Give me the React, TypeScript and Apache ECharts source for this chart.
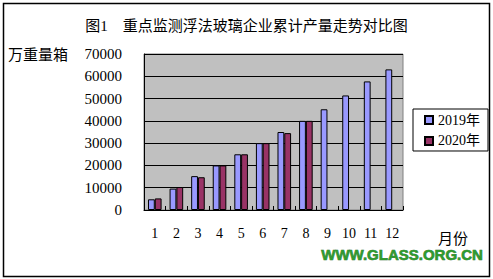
import React, { useEffect, useRef } from "react";
import * as echarts from "echarts";

const months = ["1", "2", "3", "4", "5", "6", "7", "8", "9", "10", "11", "12"];
const values2019 = [4800, 9600, 15200, 20000, 25000, 30000, 35000, 40000, 45200, 51400, 57700, 63100];
const values2020 = [5200, 10300, 14700, 20000, 25000, 30000, 34500, 40000];
const yTicks = { min: 0, max: 70000, interval: 10000 };
const seriesNames = ["2019年", "2020年"];
const titleText = "图1　重点监测浮法玻璃企业累计产量走势对比图";
const yName = "万重量箱";
const xName = "月份";
const watermark = "WWW.GLASS.ORG.CN";

const FONT = "'Liberation Serif', 'Noto Sans CJK SC', serif";

export default function App() {
  const ref = useRef<HTMLDivElement>(null);
  useEffect(() => {
    if (!ref.current) return;
    const chart = echarts.init(ref.current, null, { renderer: "svg" });
    chart.setOption({
      animation: false,
      backgroundColor: "#ffffff",
      title: {
        text: titleText,
        left: "center",
        top: 13,
        textStyle: { fontFamily: FONT, fontSize: 15, fontWeight: "normal", color: "#000" },
      },
      grid: {
        left: 144,
        top: 54,
        width: 259,
        height: 156,
        show: true,
        backgroundColor: "#C0C0C0",
        borderColor: "#808080",
        borderWidth: 1,
      },
      legend: {
        orient: "vertical",
        left: 413,
        top: 109,
        padding: [4, 8, 3, 11],
        itemGap: 7,
        itemWidth: 8,
        itemHeight: 8,
        icon: "rect",
        borderColor: "#000",
        borderWidth: 1,
        backgroundColor: "#fff",
        textStyle: { fontFamily: FONT, fontSize: 14, color: "#000" },
        data: seriesNames,
      },
      xAxis: {
        type: "category",
        data: months,
        axisLine: { lineStyle: { color: "#000", width: 1 } },
        axisTick: { show: true, inside: true, length: 4, interval: 0, lineStyle: { color: "#000" } },
        axisLabel: { fontFamily: FONT, fontSize: 14, color: "#000", margin: 16, interval: 0 },
      },
      yAxis: {
        type: "value",
        min: yTicks.min,
        max: yTicks.max,
        interval: yTicks.interval,
        axisLine: { show: true, lineStyle: { color: "#000", width: 1 } },
        axisTick: { show: false },
        axisLabel: {
          fontFamily: FONT,
          fontSize: 15,
          color: "#000",
          margin: 22,
          formatter: (v: number) => String(v),
        },
        splitLine: { lineStyle: { color: "#000", width: 1 } },
      },
      series: [
        {
          name: seriesNames[0],
          type: "bar",
          data: values2019,
          barGap: "0%",
          barCategoryGap: "37%",
          itemStyle: { color: "#9999FF", borderColor: "#000", borderWidth: 1 },
        },
        {
          name: seriesNames[1],
          type: "bar",
          data: values2020,
          barGap: "0%",
          barCategoryGap: "37%",
          itemStyle: { color: "#993366", borderColor: "#000", borderWidth: 1 },
        },
      ],
      graphic: [
        {
          type: "rect",
          shape: { x: 3.5, y: 3.5, width: 486, height: 273 },
          style: { fill: "none", stroke: "#000", lineWidth: 1.5 },
          silent: true,
        },
        {
          type: "text",
          left: 8,
          top: 47,
          style: { text: yName, fontFamily: FONT, fontSize: 15, fill: "#000" },
        },
        {
          type: "text",
          left: 438,
          top: 231,
          style: { text: xName, fontFamily: FONT, fontSize: 15, fill: "#000" },
        },
        {
          type: "text",
          left: 321,
          top: 247,
          style: {
            text: watermark,
            fontFamily: "'Liberation Sans', Arial, sans-serif",
            fontSize: 15,
            fontWeight: 900,
            fill: "#2E9A2E",
            stroke: "#1F6B1F",
            lineWidth: 0.6,
          },
        },
      ],
    });
    return () => chart.dispose();
  }, []);
  return (
    <div
      ref={ref}
      style={{ position: "absolute", left: 0, top: 0, width: 493, height: 279 }}
    />
  );
}
